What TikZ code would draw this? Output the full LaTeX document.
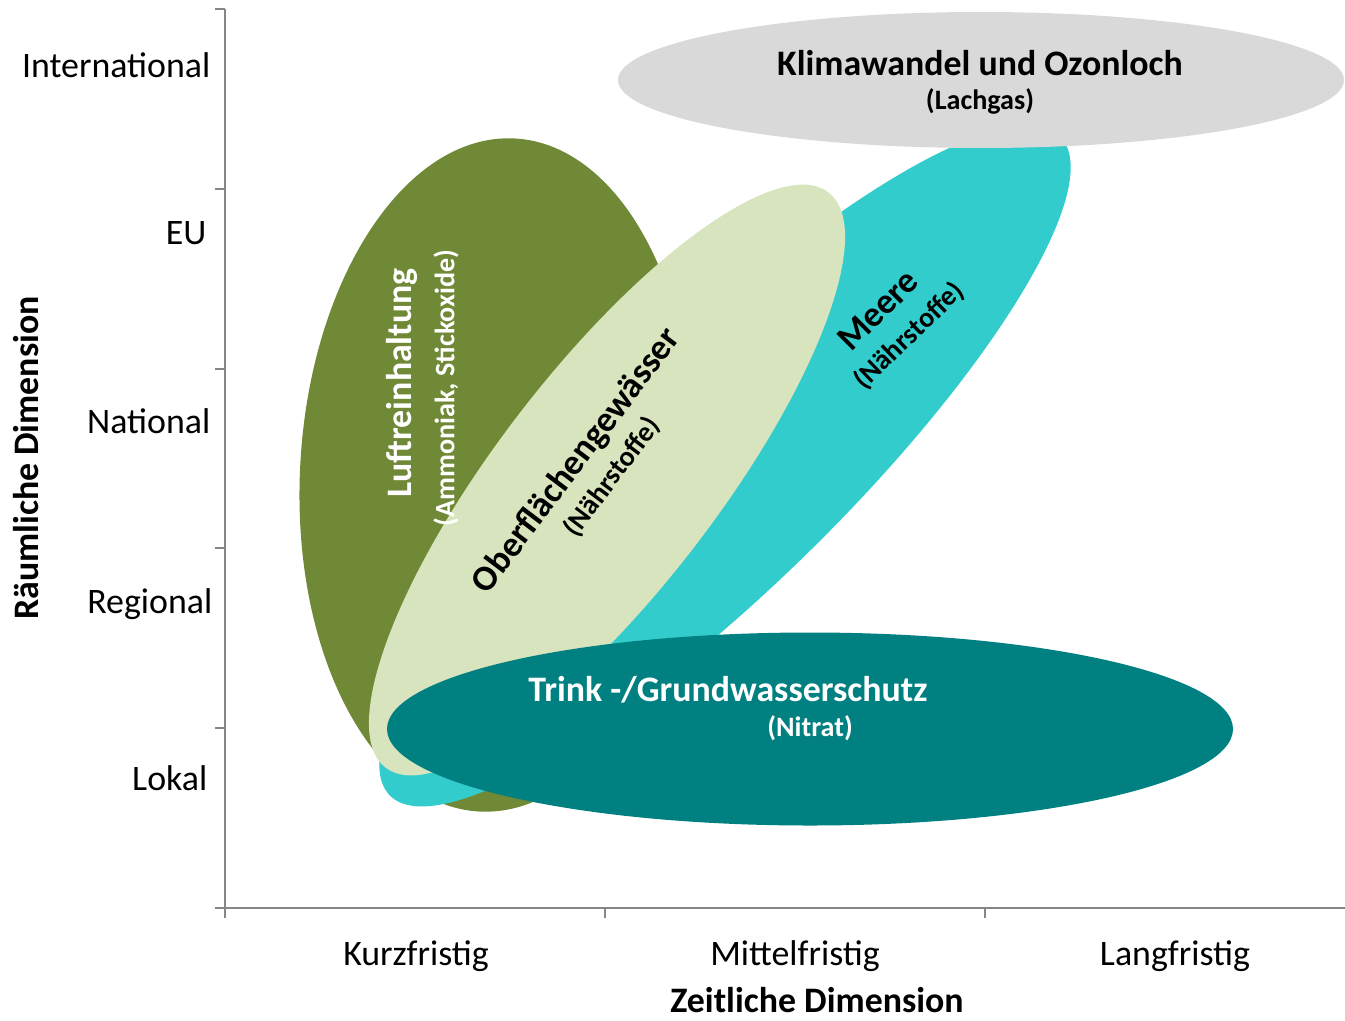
\documentclass[tikz,border=0pt]{standalone}
\usepackage{fontspec}
\setmainfont{Carlito}
\usepackage{xcolor}
\usepackage{tikz}
\usetikzlibrary{shapes.geometric, positioning}
\definecolor{climategray}{RGB}{217, 217, 217}
\definecolor{seacyan}{RGB}{51, 204, 204}
\definecolor{airolive}{RGB}{112, 137, 55}
\definecolor{surfacegreen}{RGB}{215, 228, 189}
\definecolor{groundteal}{RGB}{0, 128, 128}
\definecolor{axisgray}{RGB}{134, 134, 134}

\begin{document}
\begin{tikzpicture}[x=0.1mm, y=0.1mm,
    zone/.style={ellipse, inner sep=0pt, draw=none},
    title/.style={font=\fontsize{10.2}{12}\selectfont\bfseries, inner sep=0pt},
    note/.style={font=\fontsize{8}{9.6}\selectfont\bfseries, inner sep=0pt},
    scalelabel/.style={font=\fontsize{10.2}{12}\selectfont, inner sep=0pt}
]
    \useasboundingbox (0,0) rectangle (1345,1020);

    % axes
    \coordinate (origin) at (225,112);
    \coordinate (ytop) at (225,1011);
    \coordinate (xend) at (1345,112);
    \draw[axisgray, line width=0.5pt] (ytop) -- (origin) -- (xend);
    \foreach \y in {112, 292, 472, 651, 831, 1011}
        \draw[axisgray, line width=0.5pt] (215,\y) -- (225,\y);
    \foreach \x in {225, 605, 985}
        \draw[axisgray, line width=0.5pt] (\x,112) -- (\x,102);

    \node[scalelabel, anchor=base east] (intl) at (211,942) {International};
    \node[scalelabel, anchor=base east] (eu) at (207,776) {EU};
    \node[scalelabel, anchor=base east] (national) at (211,587) {National};
    \node[scalelabel, anchor=base east] (regional) at (213,407) {Regional};
    \node[scalelabel, anchor=base east] (local) at (208,230) {Lokal};

    \node[scalelabel, anchor=base] (short) at (416,55) {Kurzfristig};
    \node[scalelabel, anchor=base] (medium) at (795,55) {Mittelfristig};
    \node[scalelabel, anchor=base] (long) at (1175,55) {Langfristig};

    \node[title, anchor=base] (timeaxis) at (817,8) {Zeitliche Dimension};
    \node[title, anchor=base, rotate=90] (spaceaxis) at (39,562) {Räumliche Dimension};

    % fields
    \node[zone, fill=airolive, minimum width=3.94cm, minimum height=6.74cm, rotate=-3] (air) at (497,545) {};
    \node[zone, fill=seacyan, minimum width=9.4cm, minimum height=2.4cm, rotate=44.5] (sea) at (725,554) {};
    \node[zone, fill=surfacegreen, minimum width=7.26cm, minimum height=2.2cm, rotate=52.4] (surface) at (607,540) {};
    \node[zone, fill=groundteal, minimum width=8.46cm, minimum height=1.93cm] (ground) at (810,291) {};
    \node[zone, fill=climategray, minimum width=7.26cm, minimum height=1.36cm] (climate) at (981,940) {};

    \node[title, text=white, rotate=90] (airtitle) at (402,637) {Luftreinhaltung};
    \node[note, text=white, rotate=90] (airnote) at (446,632) {(Ammoniak, Stickoxide)};
    \node[title, rotate=53] (surfacetitle) at (577,559) {Oberflächengewässer};
    \node[note, rotate=53] (surfacenote) at (612,543) {(Nährstoffe)};
    \node[title, rotate=45] (seatitle) at (878,710) {Meere};
    \node[note, rotate=44] (seanote) at (909,684) {(Nährstoffe)};
    \node[title, text=white] (groundtitle) at (728,330) {Trink -/Grundwasserschutz};
    \node[note, text=white] (groundnote) at (810,292) {(Nitrat)};
    \node[title] (climatetitle) at (980,957) {Klimawandel und Ozonloch};
    \node[note] (climatenote) at (980,919) {(Lachgas)};
\end{tikzpicture}
\end{document}
